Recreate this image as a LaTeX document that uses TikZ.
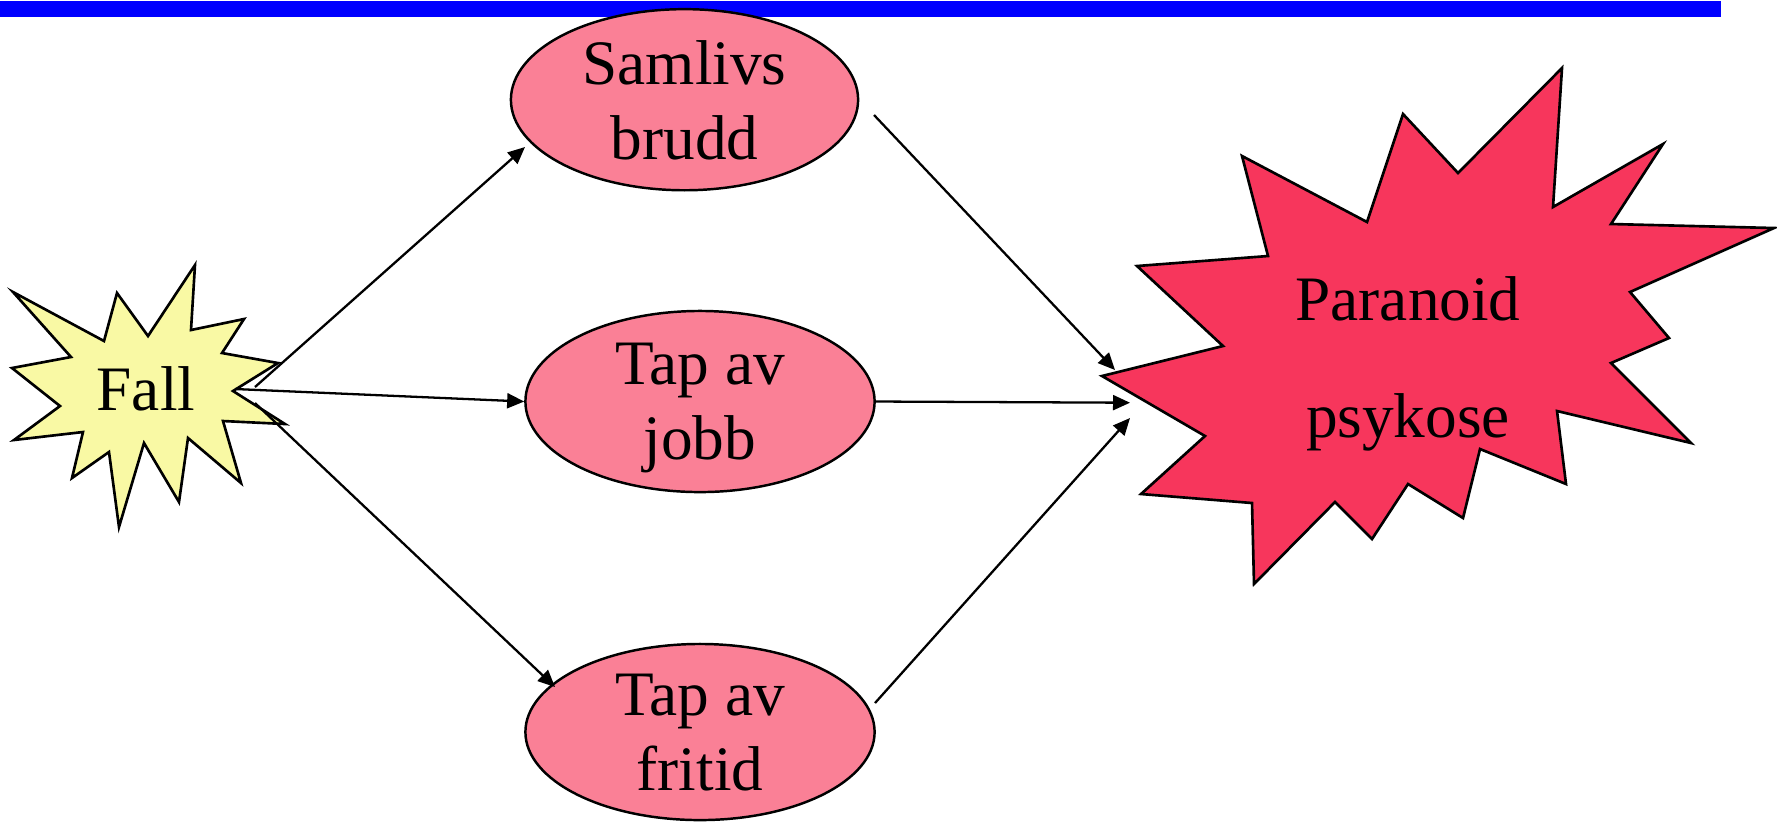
\documentclass[tikz,border=0pt]{standalone}
\usepackage{fontspec}
\setmainfont{Liberation Serif}
\usetikzlibrary{shapes.geometric, arrows.meta, positioning}
\definecolor{barblue}{RGB}{0,0,255}
\definecolor{ovalpink}{RGB}{250,128,150}
\definecolor{burstred}{RGB}{247,54,92}
\definecolor{burstyellow}{RGB}{249,249,164}
\tikzset{oval/.style={ellipse, draw=black, line width=0.7pt, fill=ovalpink, inner sep=0pt, align=center, text depth=0pt, font=\fontsize{18}{21.3}\selectfont},
burst/.style={draw=black, line width=0.75pt, line join=miter}}

\begin{document}
\begin{tikzpicture}[x=0.01cm, y=-0.01cm, line width=0.65pt, >={Triangle[length=1.7mm, width=1.5mm]}]
 \useasboundingbox (0,0) rectangle (1777,823);
 %Drawing Top Bar
 \fill[barblue] (0,1) rectangle (1721,17);

 %Drawing Fall burst
 \draw[burst, fill=burstyellow] (13,292) -- (104,341) -- (117,293) -- (148,336) -- (195,265) -- (191,330) -- (244,319) -- (222,353) -- (278,363) -- (233,391) -- (285,424) -- (223,421) -- (241,483) -- (188,438) -- (179,502) -- (144,443) -- (119,527) -- (109,452) -- (72,478) -- (83,432) -- (14,440) -- (60,406) -- (12,368) -- (71,357) -- cycle;
 \node (fall) [font=\fontsize{18}{21.3}\selectfont] at (146,389) {Fall};

 %Drawing Paranoid burst
 \draw[burst, fill=burstred] (1242,156) -- (1367,222) -- (1403,114) -- (1458,173) -- (1562,68) -- (1553,207) -- (1663,144) -- (1611,224) -- (1774,228) -- (1630,292) -- (1669,338) -- (1611,363) -- (1691,443) -- (1557,411) -- (1566,484) -- (1480,449) -- (1463,518) -- (1408,484) -- (1372,539) -- (1335,502) -- (1254,584) -- (1252,503) -- (1141,494) -- (1205,436) -- (1102,376) -- (1223,346) -- (1137,266) -- (1268,256) -- cycle;
 \node (paranoid) [align=center, text depth=0pt, font=\fontsize{18}{33.1}\selectfont] at (1408,357) {Paranoid\\psykose};

 %Drawing Ovals
 \node (samlivs) [oval, minimum width=3.47cm, minimum height=1.81cm] at (684.5,99.7) {Samlivs\\brudd};
 \node (jobb) [oval, minimum width=3.49cm, minimum height=1.81cm] at (700,401.5) {Tap av\\jobb};
 \node (fritid) [oval, minimum width=3.49cm, minimum height=1.76cm] at (700,732) {Tap av\\fritid};

 %Arrow ends
 \coordinate (fallout1) at (255,387);
 \coordinate (fallout2) at (235,389);
 \coordinate (fallout3) at (255,403);
 \coordinate (samlivsin) at (525,147);
 \coordinate (fritidin) at (555,687);
 \coordinate (samlivsout) at (874,115);
 \coordinate (fritidout) at (875,703);
 \coordinate (parin1) at (1115,370);
 \coordinate (parin2) at (1130,402.7);
 \coordinate (parin3) at (1130,418);

 %Drawing Arrows
 \draw[->] (fallout1) -- (samlivsin);
 \draw[->] (fallout2) -- (jobb.west);
 \draw[->] (fallout3) -- (fritidin);
 \draw[->] (samlivsout) -- (parin1);
 \draw[->] (jobb.east) -- (parin2);
 \draw[->] (fritidout) -- (parin3);
\end{tikzpicture}
\end{document}
